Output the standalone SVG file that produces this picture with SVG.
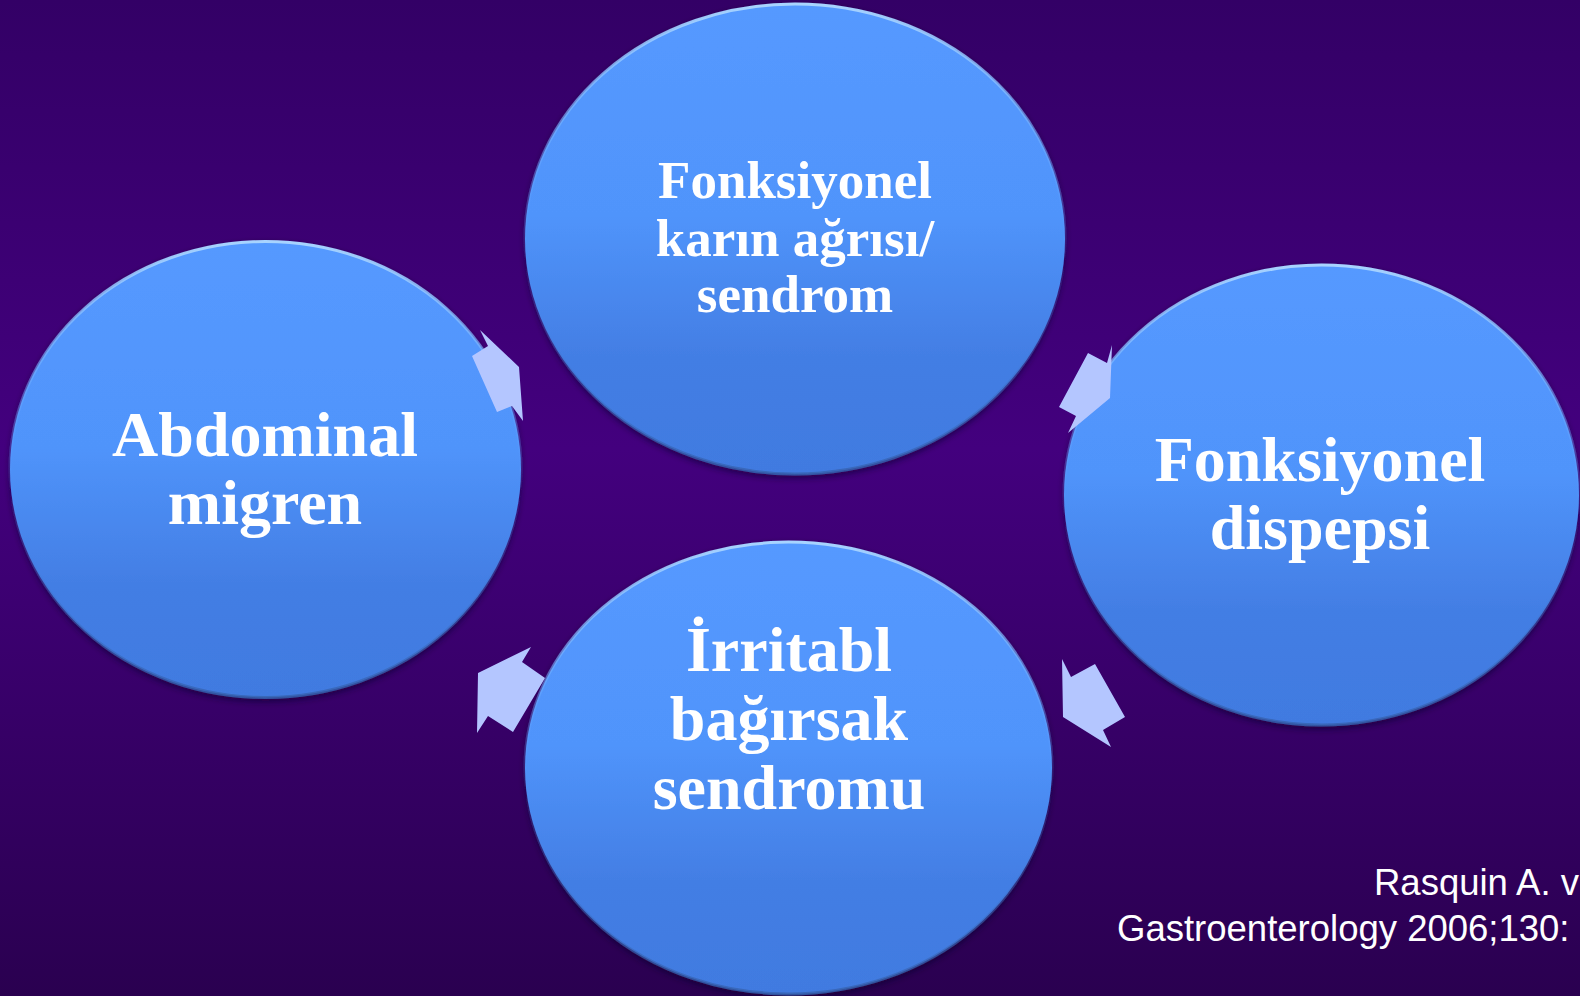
<svg xmlns="http://www.w3.org/2000/svg" width="1580" height="996" viewBox="0 0 1580 996">
<defs>
<linearGradient id="bg" x1="0" y1="0" x2="0" y2="1">
<stop offset="0" stop-color="#330066"/>
<stop offset="0.45" stop-color="#43007e"/>
<stop offset="1" stop-color="#2a0050"/>
</linearGradient>
<linearGradient id="fill" x1="0" y1="0" x2="0" y2="1">
<stop offset="0" stop-color="#5599ff"/>
<stop offset="0.45" stop-color="#5094fb"/>
<stop offset="0.75" stop-color="#437ee4"/>
<stop offset="1" stop-color="#417ae0"/>
</linearGradient>
<linearGradient id="rim" x1="0" y1="0" x2="0" y2="1">
<stop offset="0" stop-color="#a8d4ff"/>
<stop offset="0.25" stop-color="#7ab6ff" stop-opacity="0.6"/>
<stop offset="0.55" stop-color="#5599ff" stop-opacity="0"/>
<stop offset="0.8" stop-color="#3a6cc0" stop-opacity="0.4"/>
<stop offset="1" stop-color="#3562b0" stop-opacity="0.8"/>
</linearGradient>
<filter id="sh" x="-10%" y="-10%" width="120%" height="125%">
<feGaussianBlur in="SourceAlpha" stdDeviation="3"/>
<feOffset dy="3" result="b"/>
<feFlood flood-color="#10002a" flood-opacity="0.6"/>
<feComposite in2="b" operator="in"/>
<feMerge><feMergeNode/><feMergeNode in="SourceGraphic"/></feMerge>
</filter>
</defs>
<style>
.node ellipse{fill:url(#fill);stroke:url(#rim);stroke-width:3;filter:url(#sh)}
.t{font-family:"Liberation Serif","Times New Roman",serif;font-weight:bold;fill:#ffffff;text-anchor:middle}
.arrow{fill:#b4c6ff;stroke:none}
.cite{font-family:"Liberation Sans",Arial,sans-serif;fill:#ffffff;font-size:36.5px}
</style>
<rect x="0" y="0" width="1580" height="996" fill="url(#bg)"/>
<g id="node-top" class="node">
<ellipse cx="795" cy="239" rx="270" ry="235"/>
<text class="t" font-size="53" x="795" y="198">Fonksiyonel</text>
<text class="t" font-size="53" x="795" y="256">karın ağrısı/</text>
<text class="t" font-size="53" x="795" y="312">sendrom</text>
</g>
<g id="node-right" class="node">
<ellipse cx="1321.5" cy="495" rx="257.5" ry="230"/>
<text class="t" font-size="64" x="1320" y="481">Fonksiyonel</text>
<text class="t" font-size="64" x="1320" y="549">dispepsi</text>
</g>
<g id="node-bottom" class="node">
<ellipse cx="788.5" cy="768" rx="263.5" ry="226"/>
<text class="t" font-size="64" x="789" y="671">İrritabl</text>
<text class="t" font-size="64" x="789" y="740">bağırsak</text>
<text class="t" font-size="64" x="789" y="809">sendromu</text>
</g>
<g id="node-left" class="node">
<ellipse cx="265.5" cy="469.5" rx="255.5" ry="228"/>
<text class="t" font-size="64" x="265" y="456">Abdominal</text>
<text class="t" font-size="64" x="265" y="524">migren</text>
</g>
<g id="connectors">
<polygon class="arrow" points="480,330 488,346 472,356 497,412 512,406 523,421 519,367"/>
<polygon class="arrow" points="1112,345 1107,363 1088,353 1059,407 1076,416 1068,433 1110,398"/>
<polygon class="arrow" points="1062,659 1071,677 1095,664 1125,717 1103,730 1111,747 1063,717"/>
<polygon class="arrow" points="531,647 522,662 545,678 513,732 488,716 477,733 478,673"/>
</g>
<g id="citation">
<text class="cite" x="1374" y="895">Rasquin A. v</text>
<text class="cite" x="1117" y="941">Gastroenterology 2006;130:</text>
</g>
</svg>
